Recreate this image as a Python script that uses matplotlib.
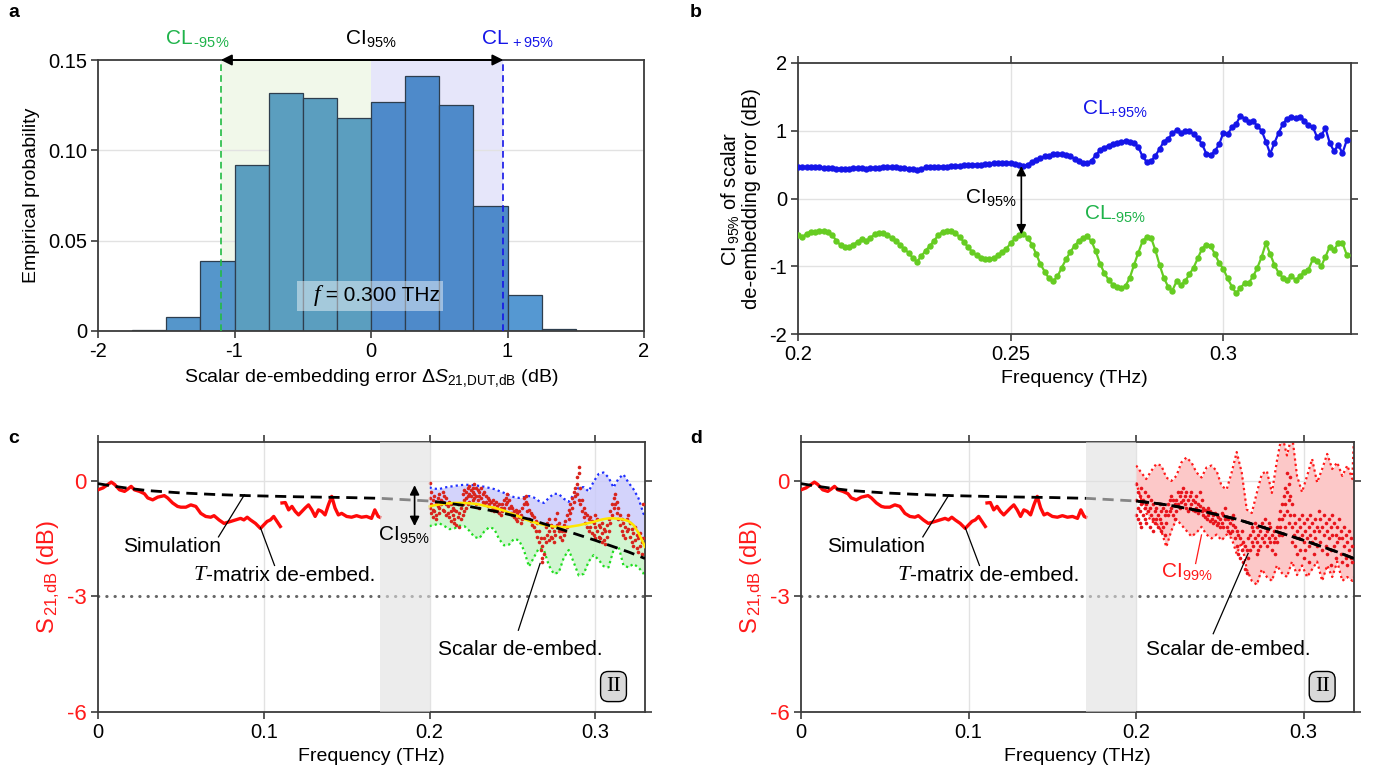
import numpy as np
import matplotlib
matplotlib.use('Agg')
import matplotlib.pyplot as plt
from matplotlib.patches import Rectangle

plt.rcParams['font.family'] = ['Liberation Sans', 'DejaVu Sans']
plt.rcParams['mathtext.fontset'] = 'custom'
plt.rcParams['mathtext.rm'] = 'Liberation Sans'
plt.rcParams['mathtext.it'] = 'Liberation Sans:italic'
plt.rcParams['mathtext.bf'] = 'Liberation Sans:bold'
plt.rcParams['axes.unicode_minus'] = False
plt.rcParams['font.size'] = 13

HY = '\u2010'  # plain hyphen, so mathtext does not turn it into a minus sign

# ---------------- data ----------------
# panel a: histogram at f = 0.300 THz
bin_left = [-1.75, -1.5, -1.25, -1.0, -0.75, -0.5, -0.25, 0.0, 0.25, 0.5, 0.75, 1.0, 1.25]
bin_prob = [0.0006, 0.008, 0.039, 0.092, 0.132, 0.129, 0.118, 0.127, 0.141, 0.125, 0.069, 0.020, 0.0012]
cl_minus_a = -1.1
cl_plus_a = 0.97

# panel b: confidence limits vs frequency
freq_b = np.round(np.arange(0.200, 0.3295, 0.001), 3)
cl_plus = [0.46, 0.46, 0.46, 0.46, 0.46, 0.46, 0.45, 0.45, 0.45, 0.44,
           0.44, 0.44, 0.44, 0.45, 0.45, 0.45, 0.44, 0.45, 0.45, 0.45,
           0.46, 0.46, 0.46, 0.46, 0.45, 0.45, 0.44, 0.43, 0.42, 0.44,
           0.46, 0.47, 0.47, 0.47, 0.47, 0.47, 0.48, 0.48, 0.48, 0.49,
           0.49, 0.50, 0.50, 0.50, 0.51, 0.51, 0.52, 0.52, 0.52, 0.53,
           0.52, 0.51, 0.49, 0.48, 0.50, 0.54, 0.57, 0.60, 0.62, 0.63,
           0.65, 0.65, 0.65, 0.64, 0.62, 0.59, 0.56, 0.53, 0.52, 0.56,
           0.64, 0.71, 0.75, 0.78, 0.80, 0.82, 0.84, 0.85, 0.84, 0.82,
           0.76, 0.62, 0.54, 0.55, 0.63, 0.73, 0.84, 0.88, 0.96, 1.01,
           0.96, 1.00, 1.00, 0.95, 0.89, 0.80, 0.66, 0.64, 0.70, 0.80,
           0.97, 0.95, 1.05, 1.10, 1.22, 1.18, 1.13, 1.14, 1.07, 1.00,
           0.84, 0.66, 0.82, 0.97, 1.10, 1.18, 1.20, 1.19, 1.21, 1.15,
           1.08, 1.06, 0.91, 0.93, 1.04, 0.82, 0.70, 0.79, 0.67, 0.86]
cl_minus = [-0.54, -0.57, -0.52, -0.49, -0.49, -0.48, -0.48, -0.49, -0.54, -0.62,
            -0.69, -0.72, -0.72, -0.68, -0.64, -0.60, -0.63, -0.58, -0.53, -0.51,
            -0.51, -0.54, -0.58, -0.63, -0.68, -0.75, -0.80, -0.88, -0.93, -0.85,
            -0.77, -0.70, -0.62, -0.54, -0.49, -0.48, -0.48, -0.51, -0.57, -0.64,
            -0.72, -0.79, -0.84, -0.88, -0.90, -0.90, -0.88, -0.84, -0.79, -0.74,
            -0.66, -0.59, -0.54, -0.53, -0.58, -0.68, -0.82, -0.97, -1.08, -1.18,
            -1.22, -1.15, -1.02, -0.90, -0.79, -0.70, -0.63, -0.59, -0.56, -0.63,
            -0.78, -0.96, -1.10, -1.20, -1.27, -1.31, -1.32, -1.29, -1.17, -0.98,
            -0.80, -0.63, -0.57, -0.58, -0.76, -0.98, -1.17, -1.30, -1.36, -1.22,
            -1.28, -1.22, -1.12, -1.02, -0.88, -0.74, -0.68, -0.70, -0.82, -0.95,
            -1.04, -1.18, -1.30, -1.40, -1.32, -1.25, -1.24, -1.15, -1.02, -0.86,
            -0.66, -0.82, -0.98, -1.10, -1.17, -1.20, -1.15, -1.20, -1.15, -1.08,
            -1.05, -0.90, -0.92, -1.00, -0.86, -0.71, -0.76, -0.66, -0.66, -0.83]

# panels c, d: simulation and T-matrix de-embedding
sim_f = [0.0, 0.01, 0.02, 0.03, 0.05, 0.07, 0.09, 0.12, 0.15, 0.17, 0.20,
         0.21, 0.22, 0.24, 0.26, 0.28, 0.30, 0.32, 0.33]
sim_db = [-0.08, -0.15, -0.21, -0.26, -0.32, -0.36, -0.39, -0.42, -0.44, -0.46, -0.53,
          -0.58, -0.64, -0.80, -1.00, -1.27, -1.55, -1.85, -2.02]

tm1_f = [0.000, 0.003, 0.006, 0.008, 0.010, 0.013, 0.016, 0.018, 0.020, 0.022,
         0.025, 0.028, 0.030, 0.033, 0.036, 0.040, 0.042, 0.045, 0.048, 0.050,
         0.053, 0.056, 0.059, 0.062, 0.065, 0.068, 0.070, 0.073, 0.076, 0.080,
         0.083, 0.086, 0.088, 0.090, 0.092, 0.095, 0.098, 0.100, 0.102, 0.104,
         0.106, 0.108, 0.110]
tm1_db = [-0.24, -0.19, -0.10, -0.04, -0.10, -0.24, -0.28, -0.22, -0.15, -0.24,
          -0.28, -0.34, -0.45, -0.50, -0.43, -0.39, -0.45, -0.58, -0.67, -0.69,
          -0.69, -0.63, -0.67, -0.85, -0.93, -0.95, -0.91, -1.02, -1.11, -1.06,
          -1.02, -0.98, -1.02, -0.95, -1.02, -1.11, -1.24, -1.15, -1.06, -1.02,
          -0.93, -1.06, -1.19]
tm2_f = [0.111, 0.113, 0.115, 0.117, 0.119, 0.121, 0.123, 0.125, 0.127, 0.129,
         0.131, 0.133, 0.135, 0.137, 0.139, 0.141, 0.143, 0.145, 0.147, 0.150,
         0.153, 0.156, 0.159, 0.162, 0.165, 0.167, 0.169, 0.170]
tm2_db = [-0.58, -0.57, -0.76, -0.67, -0.80, -0.89, -0.80, -0.71, -0.63, -0.76,
          -0.93, -0.76, -0.80, -0.89, -0.63, -0.41, -0.71, -0.89, -0.85, -0.93,
          -0.95, -0.91, -0.95, -0.93, -0.98, -0.76, -0.93, -0.95]

# panel c: 95 % band (upper limit, mean, lower limit)
band_f = [0.200, 0.203, 0.206, 0.209, 0.212, 0.215, 0.218, 0.221, 0.224, 0.227,
          0.230, 0.233, 0.236, 0.239, 0.242, 0.245, 0.248, 0.251, 0.254, 0.257,
          0.260, 0.263, 0.266, 0.269, 0.272, 0.275, 0.278, 0.281, 0.284, 0.287,
          0.290, 0.293, 0.296, 0.299, 0.302, 0.305, 0.308, 0.311, 0.314, 0.317,
          0.320, 0.323, 0.326, 0.329, 0.330]
c95_upper = [-0.18, -0.21, -0.22, -0.18, -0.16, -0.14, -0.12, -0.11, -0.11, -0.12,
             -0.14, -0.16, -0.19, -0.22, -0.27, -0.32, -0.38, -0.43, -0.45, -0.43,
             -0.40, -0.44, -0.53, -0.58, -0.45, -0.34, -0.35, -0.47, -0.55, -0.36,
             -0.18, -0.17, -0.28, -0.03, 0.17, 0.21, 0.08, -0.18, 0.05, 0.16,
             -0.05, -0.22, -0.45, -0.85, -0.93]
c95_mean = [-0.67, -0.64, -0.62, -0.60, -0.59, -0.58, -0.58, -0.58, -0.59, -0.60,
            -0.62, -0.65, -0.68, -0.70, -0.74, -0.78, -0.83, -0.88, -0.93, -0.99,
            -1.04, -1.08, -1.12, -1.15, -1.17, -1.19, -1.20, -1.21, -1.20, -1.18,
            -1.16, -1.13, -1.10, -1.07, -1.03, -1.00, -0.98, -0.98, -0.99, -1.01,
            -1.05, -1.15, -1.35, -1.62, -1.72]
c95_lower = [-1.18, -1.15, -1.11, -1.18, -1.26, -1.24, -1.17, -1.18, -1.30, -1.46,
             -1.50, -1.32, -1.21, -1.25, -1.52, -1.68, -1.66, -1.51, -1.55, -1.81,
             -2.23, -1.99, -1.75, -1.80, -2.20, -2.42, -2.38, -2.00, -1.80, -2.12,
             -2.46, -2.42, -2.10, -1.93, -2.05, -2.22, -2.25, -1.80, -1.70, -2.20,
             -2.25, -2.16, -2.25, -2.40, -2.51]

# panel d: 99 % band
d99_upper = [0.39, 0.21, 0.04, 0.25, 0.43, 0.39, 0.08, -0.01, 0.12, 0.47,
             0.60, 0.47, 0.21, 0.08, 0.34, 0.39, 0.25, -0.14, -0.23, 0.21,
             0.74, 0.21, -0.75, -0.84, -0.32, 0.17, 0.25, -0.32, 0.51, 1.20,
             0.65, 1.20, 0.12, -0.30, 0.12, 0.56, -0.05, 0.30, 0.69, 0.30,
             0.47, 0.12, 0.39, 0.04, 1.20]
d99_lower = [-0.05, -0.49, -0.84, -1.06, -1.10, -1.30, -1.72, -1.30, -1.00, -1.15,
             -1.30, -1.45, -1.35, -1.20, -1.40, -1.50, -1.40, -1.55, -1.40, -1.50,
             -1.90, -1.60, -2.30, -2.60, -2.70, -2.30, -2.50, -2.60, -2.20, -2.40,
             -2.50, -2.10, -2.45, -2.20, -2.50, -2.30, -2.10, -2.60, -2.20, -2.50,
             -2.10, -2.60, -2.50, -2.60, -2.50]

# scalar de-embedding samples, one row per frequency (0.200 ... 0.329 THz)
scalar_f = np.round(np.arange(0.200, 0.3295, 0.001), 3)
scalar_c = [
    [-0.05, -0.45, -0.7], [-0.3, -0.6, -0.85], [-0.5, -0.75, -0.95], [-0.4, -0.8], [-0.55, -0.9, -1.0],
    [-0.45, -0.65], [-0.35, -0.7, -0.85], [-0.5, -0.6], [-0.3, -0.55, -0.75], [-0.4, -0.8],
    [-0.45, -0.6, -0.9], [-0.65, -0.85], [-0.55, -0.95], [-0.6, -0.8, -1.05], [-0.7, -0.9],
    [-0.75, -1.0, -1.1], [-0.8, -1.15], [-0.6, -0.95], [-0.85, -1.2], [-0.7, -1.0],
    [-0.35, -0.6, -0.9], [-0.25, -0.5, -0.8], [-0.3, -0.45, -0.7], [-0.2, -0.4, -0.6], [-0.15, -0.35, -0.55],
    [-0.25, -0.4], [-0.2, -0.3, -0.5], [-0.1, -0.35, -0.45], [-0.2, -0.4, -0.6], [-0.25, -0.5],
    [-0.3, -0.4, -0.7], [-0.2, -0.45], [-0.35, -0.55], [-0.3, -0.6], [-0.4, -0.55],
    [-0.45, -0.65], [-0.5, -0.6], [-0.55, -0.75], [-0.5, -0.7], [-0.6, -0.8],
    [-0.55, -0.75], [-0.65, -0.8], [-0.6, -0.85], [-0.7, -0.9], [-0.6, -0.8],
    [-0.5, -0.7], [-0.45, -0.6], [-0.35, -0.55], [-0.5, -0.7], [-0.65, -0.85],
    [-0.7, -0.9], [-0.8, -0.95], [-0.75, -1.0], [-0.85, -1.05], [-0.8, -0.95],
    [-0.9, -1.1], [-0.7, -1.0], [-0.45, -0.6], [-0.4, -0.55], [-0.6, -0.8],
    [-0.75, -1.0], [-0.85, -1.05], [-0.9, -1.15], [-0.95, -1.2], [-1.05, -1.3],
    [-1.1, -1.45], [-1.3, -1.6], [-1.5, -1.8], [-1.7, -2.0, -2.1], [-1.5, -1.9],
    [-1.2, -1.6], [-1.1, -1.4], [-1.0, -1.3, -1.55], [-1.15, -1.45], [-1.2, -1.5],
    [-1.3, -1.6], [-1.0, -1.4], [-0.85, -1.15], [-1.1, -1.3], [-1.2, -1.45],
    [-1.3, -1.55], [-1.15, -1.4], [-1.05, -1.3], [-0.9, -1.2], [-0.75, -1.0],
    [-0.6, -0.85], [-0.45, -0.7], [-0.3, -0.55], [-0.2, -0.4], [0.1, -0.1, -0.35],
    [0.35, 0.2, -0.5], [-0.2, -0.6], [-0.5, -0.8], [-0.7, -0.95], [-0.85, -1.1],
    [-0.9, -1.2], [-1.0, -1.3], [-0.95, -1.2], [-1.05, -1.35], [-1.1, -1.4],
    [-0.9, -1.2, -1.5], [-1.0, -1.3], [-1.15, -1.45], [-1.2, -1.5], [-1.1, -1.35, -1.6],
    [-1.25, -1.55], [-1.3, -1.65], [-1.15, -1.45], [-1.0, -1.3], [-0.8, -1.1],
    [-0.6, -0.9], [-0.45, -0.7], [-0.35, -0.6], [-0.55, -0.85], [-0.7, -1.0],
    [-0.9, -1.15], [-1.0, -1.3], [-1.1, -1.4], [-1.2, -1.5], [-1.0, -1.3],
    [-0.9, -1.25], [-1.1, -1.45], [-1.25, -1.6], [-1.35, -1.7], [-1.2, -1.55],
    [-1.4, -1.75], [-1.5, -1.85], [-1.35, -1.7], [-1.6, -1.9], [-0.6, -1.5]]
scalar_d = [
    [-0.1, -0.5, -0.9], [-0.3, -0.7, -1.0], [-0.4, -0.8, -1.1], [-0.2, -0.6, -1.2], [-0.5, -0.9],
    [-0.3, -0.7, -1.0], [-0.6, -1.1], [-0.4, -0.8], [-0.7, -1.2], [-0.5, -0.9],
    [-0.6, -1.0, -1.3], [-0.8, -1.1], [-0.7, -1.0], [-0.9, -1.2], [-0.6, -1.0],
    [-0.8, -1.1, -1.3], [-0.7, -1.2], [-0.9, -1.4], [-0.8, -1.1], [-0.6, -0.9],
    [-0.5, -0.8], [-0.4, -0.7], [-0.5, -0.9], [-0.6, -1.0], [-0.5, -0.8],
    [-0.3, -0.6], [-0.4, -0.7], [-0.3, -0.55], [-0.2, -0.5], [-0.4, -0.6],
    [-0.3, -0.7], [-0.5, -0.8], [-0.4, -0.7], [-0.3, -0.6], [-0.5, -0.75],
    [-0.55, -0.8], [-0.4, -0.7], [-0.6, -0.85], [-0.3, -0.65], [-0.5, -0.8],
    [-0.7, -0.9], [-0.75, -0.95], [-0.8, -1.0], [-0.7, -0.9], [-0.8, -1.05],
    [-0.85, -1.0], [-0.9, -1.1], [-0.85, -1.05], [-0.9, -1.15], [-0.95, -1.1],
    [-1.0, -1.2], [-0.85, -1.1], [-0.9, -1.2], [-0.7, -1.0], [-0.95, -1.2],
    [-1.0, -1.3], [-1.1, -1.35], [-1.0, -1.3], [-0.9, -1.15], [-1.2, -1.5],
    [-1.3, -1.7], [-1.4, -1.9], [-1.5, -2.0], [-1.3, -1.8], [-1.6, -2.1],
    [-1.7, -2.3], [-1.8, -2.4], [-1.5, -2.0], [-1.4, -1.8], [-1.2, -1.6],
    [-1.3, -1.7], [-1.1, -1.5], [-1.2, -1.6, -1.9], [-1.4, -1.8], [-1.3, -1.7],
    [-1.1, -1.5], [-1.2, -1.6], [-1.0, -1.4], [-1.3, -1.7], [-1.1, -1.5],
    [-1.2, -1.6], [-1.4, -1.8], [-1.3, -1.6], [-1.5, -1.9], [-1.2, -1.6],
    [-1.0, -1.4], [-0.8, -1.2], [-0.6, -1.0, -1.4], [-0.4, -0.9], [-0.2, -0.6, -1.2],
    [0.2, -0.3, -0.8], [-0.1, -0.5, -1.1], [0.1, -0.4, -0.9], [-0.6, -1.2, -1.6], [-0.9, -1.4],
    [-1.1, -1.7], [-1.3, -1.9], [-1.0, -1.5], [-1.2, -1.8], [-0.9, -1.4],
    [-1.1, -1.6, -2.0], [-1.3, -1.8], [-1.0, -1.5], [-1.2, -1.7, -2.1], [-0.9, -1.4],
    [-1.1, -1.6], [-1.3, -1.9], [-1.0, -1.5], [-1.2, -1.7], [-0.8, -1.3],
    [-1.0, -1.6], [-1.2, -1.8], [-0.9, -1.4], [-1.1, -1.7], [-1.3, -1.9],
    [-1.0, -1.5], [-1.2, -1.8, -2.2], [-0.9, -1.4], [-1.1, -1.7], [-1.4, -2.0],
    [-1.2, -1.6], [-1.0, -1.5], [-1.3, -1.9], [-1.5, -2.1], [-1.2, -1.7],
    [-1.4, -2.0], [-1.6, -2.2], [-1.3, -1.8], [-1.5, -2.0], [-1.7, -2.1]]

# ---------------- figure ----------------
fig = plt.figure(figsize=(13.74, 7.79), dpi=100)
W, H = 1374., 779.


def px_axes(left, top, right, bottom):
    return fig.add_axes([left / W, 1 - bottom / H, (right - left) / W, (bottom - top) / H])


def style_frame(ax):
    for sp in ax.spines.values():
        sp.set_color('#3c3c3c')
        sp.set_linewidth(1.3)
    ax.tick_params(direction='out', length=5, width=1.2, color='#3c3c3c', labelsize=14.5, pad=3)


grid_kw = dict(color='#e2e2e2', lw=1.0, zorder=0)
blue = '#1515e8'
green = '#66cc22'
green_txt = '#1fb34a'

# ---- a ----
ax = px_axes(98, 60, 644, 331)
style_frame(ax)
ax.axvspan(cl_minus_a, 0, color='#f1f8ea', zorder=0, lw=0)
ax.axvspan(0, cl_plus_a, color='#e6e6fa', zorder=0, lw=0)
for yv in [0.05, 0.10]:
    ax.axhline(yv, **grid_kw)
colors = []
for xl in bin_left:
    c = xl + 0.125
    if c < cl_minus_a:
        colors.append('#5596cb')
    elif c < 0:
        colors.append('#5b9ebf')
    elif c < cl_plus_a:
        colors.append('#4e8aca')
    else:
        colors.append('#5598d2')
ax.bar(bin_left, bin_prob, width=0.25, align='edge', color=colors, edgecolor='#2e3e4e', lw=0.9, zorder=2)
ax.plot([cl_minus_a, cl_minus_a], [0, 0.15], ls=(0, (4, 2.5)), color='#22bb44', lw=1.2, zorder=4)
ax.plot([cl_plus_a, cl_plus_a], [0, 0.15], ls=(0, (4, 2.5)), color=blue, lw=1.2, zorder=4)
ax.annotate('', xy=(cl_minus_a, 0.15), xytext=(cl_plus_a, 0.15),
            arrowprops=dict(arrowstyle='<|-|>', color='k', lw=1.4, mutation_scale=16,
                            shrinkA=0, shrinkB=0), annotation_clip=False, zorder=6)
ax.text(-1.27, 0.1555, r'CL$_{\,' + HY + r'95\%}$', color=green_txt, ha='center', va='bottom', fontsize=15)
ax.text(0.0, 0.1555, r'CI$_{95\%}$', color='k', ha='center', va='bottom', fontsize=15)
ax.text(1.07, 0.1555, r'CL$_{\,+95\%}$', color=blue, ha='center', va='bottom', fontsize=15)
ax.add_patch(Rectangle((-0.54, 0.0112), 1.07, 0.0165, facecolor='white', alpha=0.45,
                       edgecolor='none', zorder=5))
ax.text(-0.37, 0.0195, 'f', family='Liberation Serif', style='italic', fontsize=17, ha='right',
        va='center', zorder=6)
ax.text(-0.37, 0.0195, ' = 0.300 THz', fontsize=15, ha='left', va='center', zorder=6)
ax.set_xlim(-2, 2)
ax.set_ylim(0, 0.15)
ax.set_xticks([-2, -1, 0, 1, 2])
ax.set_xticklabels(['-2', '-1', '0', '1', '2'])
ax.set_yticks([0, 0.05, 0.10, 0.15])
ax.set_yticklabels(['0', '0.05', '0.10', '0.15'])
ax.set_ylabel('Empirical probability', fontsize=14, labelpad=6)
ax.set_xlabel(r'Scalar de-embedding error $\Delta S_{21{,}\mathrm{DUT{,}dB}}$ (dB)', fontsize=14, labelpad=4)

# ---- b ----
ax = px_axes(798, 63, 1351, 334)
style_frame(ax)
for xv in [0.25, 0.3]:
    ax.axvline(xv, **grid_kw)
for yv in [1, 0, -1]:
    ax.axhline(yv, **grid_kw)
ax.plot(freq_b, cl_plus, '-o', color=blue, lw=1.6, ms=3.6, zorder=3)
ax.plot(freq_b, cl_minus, '-o', color=green, lw=1.6, ms=3.6, zorder=3)
ax.annotate('', xy=(0.2525, 0.48), xytext=(0.2525, -0.53),
            arrowprops=dict(arrowstyle='<|-|>', color='k', lw=1.2, mutation_scale=14,
                            shrinkA=0, shrinkB=0), zorder=4)
ax.text(0.2515, 0.0, r'CI$_{95\%}$', ha='right', va='center', fontsize=15)
ax.text(0.2745, 1.31, r'CL$_{+95\%}$', color=blue, ha='center', va='center', fontsize=15)
ax.text(0.2745, -0.24, r'CL$_{' + HY + r'95\%}$', color=green_txt, ha='center', va='center', fontsize=15)
ax.set_xlim(0.2, 0.33)
ax.set_ylim(-2, 2)
ax.set_xticks([0.2, 0.25, 0.3])
ax.set_xticklabels(['0.2', '0.25', '0.3'])
ax.set_yticks([-2, -1, 0, 1, 2])
ax.set_yticklabels(['-2', '-1', '0', '1', '2'])
ax.tick_params(top=True, right=True)
ax.set_xlabel('Frequency (THz)', fontsize=14, labelpad=4)
ax.set_ylabel('CI$_{\\,95\\%}$ of scalar\nde-embedding error (dB)', fontsize=14.5, labelpad=6,
              linespacing=1.0)


def common_cd(ax):
    style_frame(ax)
    for xv in [0.1, 0.2, 0.3]:
        ax.axvline(xv, **grid_kw)
    ax.axhline(0, **grid_kw)
    ax.axvspan(0.17, 0.2, color='#e0e0e0', alpha=0.6, lw=0, zorder=5)
    ax.axhline(-3, color='#666666', ls=(0, (0.1, 2.6)), lw=2.2, dash_capstyle='round', zorder=2)
    ax.plot(sim_f, sim_db, color='k', ls=(0, (4, 2.4)), lw=2.0, zorder=4)
    ax.plot(tm1_f, tm1_db, color='#ff0a0a', lw=2.4, zorder=3)
    ax.plot(tm2_f, tm2_db, color='#ff0a0a', lw=2.4, zorder=3)
    ax.plot([0.0883, 0.0727], [-0.37, -1.46], color='k', lw=0.9, zorder=6)
    ax.text(0.0447, -1.72, 'Simulation', ha='center', va='center', fontsize=15, zorder=6)
    ax.plot([0.098, 0.1065], [-1.22, -2.2], color='k', lw=0.9, zorder=6)
    ax.text(0.0650, -2.46, 'T', family='Liberation Serif', style='italic', fontsize=16,
            ha='right', va='center', zorder=6)
    ax.text(0.0650, -2.46, '-matrix de-embed.', ha='left', va='center', fontsize=15, zorder=6)
    ax.text(0.255, -4.38, 'Scalar de-embed.', ha='center', va='center', fontsize=15, zorder=6)
    ax.text(0.311, -5.34, 'II', family='Liberation Serif', fontsize=16, ha='center', va='center',
            zorder=6, bbox=dict(boxstyle='round,pad=0.25,rounding_size=0.35', fc='#d9d9d9',
                                ec='k', lw=1.0))
    ax.set_xlim(0, 0.33)
    ax.set_ylim(-6, 1)
    ax.set_xticks([0, 0.1, 0.2, 0.3])
    ax.set_xticklabels(['0', '0.1', '0.2', '0.3'])
    ax.set_yticks([-6, -3, 0])
    ax.set_yticklabels(['-6', '-3', '0'])
    ax.tick_params(top=True, right=True)
    ax.tick_params(axis='y', labelcolor='#ff1a1a', labelsize=16)
    ax.set_xlabel('Frequency (THz)', fontsize=14, labelpad=4)
    ax.set_ylabel(r'S$_{\,21{,}\mathrm{dB}}$ (dB)', color='#ff1a1a', fontsize=17, labelpad=4)


def scatter_rows(ax, rows, color):
    xs, ys = [], []
    for f, row in zip(scalar_f, rows):
        for v in row:
            xs.append(f)
            ys.append(v)
    ax.plot(xs, ys, 'o', color=color, ms=2.6, mec='none', zorder=3)


# ---- c ----
ax = px_axes(98, 442, 645, 712)
common_cd(ax)
ax.fill_between(band_f, c95_mean, c95_upper, color='#c9c9fb', alpha=0.8, lw=0, zorder=1)
ax.fill_between(band_f, c95_lower, c95_mean, color='#c6f3c6', alpha=0.8, lw=0, zorder=1)
ax.plot(band_f, c95_upper, color='#2030ff', ls=(0, (1, 1.4)), lw=1.6, zorder=2)
ax.plot(band_f, c95_lower, color='#20dd20', ls=(0, (1, 1.4)), lw=1.6, zorder=2)
scatter_rows(ax, scalar_c, '#d8241c')
ax.plot(band_f, c95_mean, color='#ffe600', lw=1.8, zorder=3.5)
ax.annotate('', xy=(0.191, -0.12), xytext=(0.191, -1.18),
            arrowprops=dict(arrowstyle='<|-|>', color='k', lw=1.2, mutation_scale=14,
                            shrinkA=0, shrinkB=0), zorder=7)
ax.text(0.1845, -1.41, r'CI$_{95\%}$', ha='center', va='center', fontsize=15, zorder=7)
ax.plot([0.2667, 0.2536], [-2.15, -3.88], color='k', lw=0.9, zorder=6)

# ---- d ----
ax = px_axes(801, 442, 1354, 712)
common_cd(ax)
ax.fill_between(band_f, d99_lower, d99_upper, color='#fcc8c8', lw=0, zorder=1)
ax.plot(band_f, d99_upper, color='#ff1a1a', ls=(0, (1, 1.4)), lw=1.6, zorder=2)
ax.plot(band_f, d99_lower, color='#ff1a1a', ls=(0, (1, 1.4)), lw=1.6, zorder=2)
scatter_rows(ax, scalar_d, '#e8141c')
ax.plot(sim_f[10:], sim_db[10:], color='k', ls=(0, (4, 2.4)), lw=2.0, zorder=4)
ax.plot([0.239, 0.2355], [-1.41, -2.15], color='#ff1a1a', lw=0.9, zorder=6)
ax.text(0.230, -2.37, r'CI$_{99\%}$', color='#ff1a1a', ha='center', va='center', fontsize=15, zorder=6)
ax.plot([0.2668, 0.246], [-1.89, -3.97], color='k', lw=0.9, zorder=6)

# panel letters
for lbl, x, y in [('a', 8, 4), ('b', 690, 4), ('c', 8, 430), ('d', 690, 430)]:
    fig.text(x / W, 1 - y / H, lbl, fontsize=14, fontweight='bold', ha='left', va='top')

fig.savefig('out.png', dpi=100)
